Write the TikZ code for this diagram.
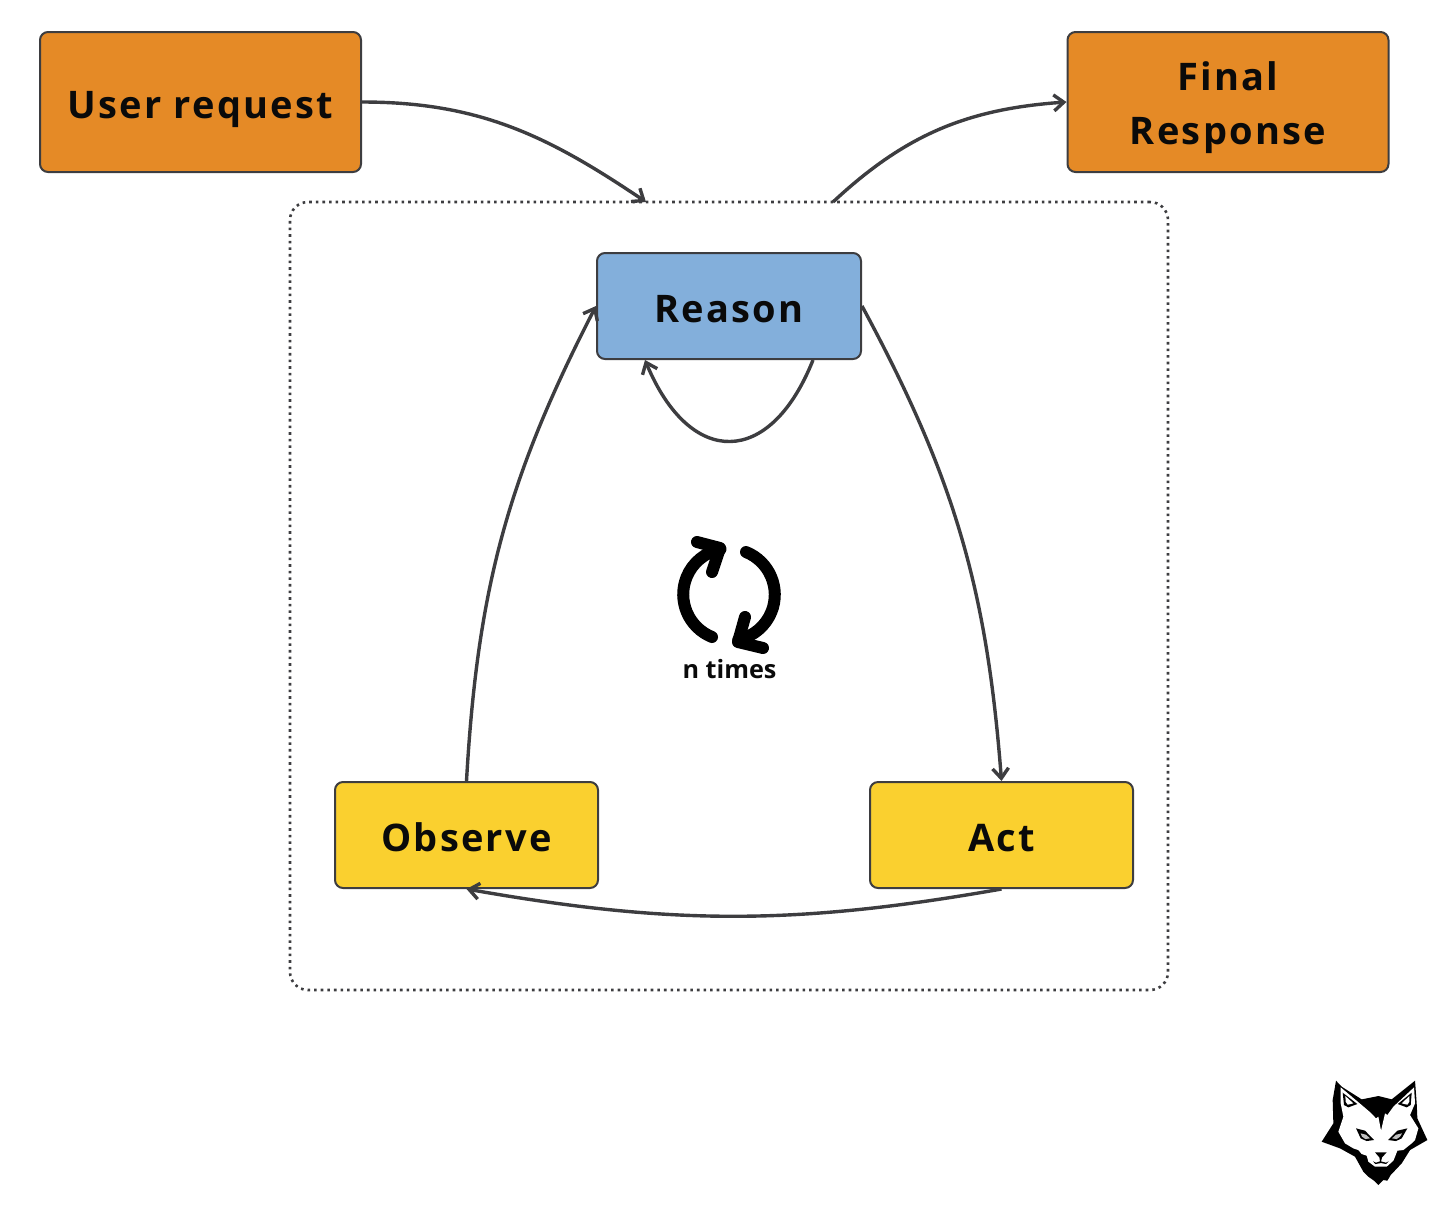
\documentclass[tikz,border=0pt]{standalone}
\usepackage{xcolor}
\usepackage{fontspec}
\usetikzlibrary{arrows.meta}
\newfontfamily\boxfont[LetterSpace=6]{Open Sans}
\setmainfont{Open Sans}
\definecolor{myorange}{RGB}{229,138,38}
\definecolor{myblue}{RGB}{131,175,219}
\definecolor{myyellow}{RGB}{250,208,47}
\definecolor{mydark}{RGB}{61,61,64}
\definecolor{myblack}{RGB}{10,10,10}
\tikzset{
  box/.style={rectangle, draw=mydark, line width=1pt, rounded corners=4pt,
    text=myblack, align=center, font=\fontsize{19}{27}\boxfont\bfseries},
  oneline/.style={text height=20pt, text depth=4pt},
  outerbox/.style={box, fill=myorange, minimum width=160.5pt, minimum height=70pt},
  reasonbox/.style={box, oneline, fill=myblue, minimum width=132pt, minimum height=53pt},
  stepbox/.style={box, oneline, fill=myyellow, minimum width=131.5pt, minimum height=53pt},
  arrow/.style={-{Straight Barb[length=5pt,width=8pt]}, line width=1.7pt, color=mydark},
  spin/.style={line width=6pt, color=black, line cap=round, line join=round}
}
\begin{document}
\begin{tikzpicture}[x=0.5pt, y=-0.5pt]
  \useasboundingbox (0,0) rectangle (1456,1206);

  % Dotted frame round the loop
  \node[draw=mydark, dotted, line width=1.3pt, rounded corners=9pt, minimum width=439pt, minimum height=394pt] (loop) at (729,596) {};
  \coordinate (loopin) at (646,202);
  \coordinate (loopout) at (833,202);

  % Boxes
  \node[outerbox, oneline] (user) at (200.5,102) {User request};
  \node[outerbox] (final) at (1228,102) {\rule{0pt}{20pt}Final\\Response};
  \node[reasonbox] (reason) at (729,306) {Reason};
  \node[stepbox] (observe) at (466.5,835) {Observe};
  \node[stepbox] (act) at (1001.5,835) {Act};

  % Connectors
  \draw[arrow] (user.east) to[out=0, in=146] (loopin);
  \draw[arrow] (loopout) to[out=43, in=184] (final.west);
  \draw[arrow] (reason.east) to[bend left=12] (act.north);
  \draw[arrow] (act.south) to[bend left=10] (observe.south);
  \draw[arrow] (observe.north) to[bend left=12] (reason.west);
  \coordinate (selfout) at (813,360);
  \coordinate (selfin) at (645,360);
  \draw[arrow] (selfout) .. controls (770,468) and (690,468) .. (selfin);

  % Refresh sign
  \node[font=\fontsize{12.6}{16}\selectfont\bfseries, text=myblack] (times) at (729.5,669) {n times};
  \draw[spin] (712,637) arc[start angle=248, end angle=101, radius=23pt];
  \draw[spin] (697,542) -- (720,548) -- (712,572);
  \draw[spin] (746,552) arc[start angle=68, end angle=-78, radius=23pt];
  \draw[spin] (745,617) -- (738,642) -- (763,648);

  % Cat logo
  \begin{scope}[shift={(1300,1060)}, x=0.1667pt, y=-0.1667pt]
    \fill[black] (108,62) -- (125,80) -- (185,118) -- (235,108) -- (275,118) -- (345,62) -- (350,130) -- (352,175) -- (382,240) -- (330,270) -- (305,310) -- (272,345) -- (262,362) -- (250,360) -- (235,375) -- (222,362) -- (205,350) -- (190,335) -- (165,290) -- (120,265) -- (65,245) -- (100,190) -- (98,120) -- cycle;
    \fill[white] (122,82) -- (185,135) -- (212,158) -- (228,175) -- (235,170) -- (243,212) -- (255,160) -- (262,165) -- (280,140) -- (342,82) -- (345,130) -- (330,165) -- (355,205) -- (345,240) -- (335,250) -- (310,270) -- (292,272) -- (285,290) -- (280,302) -- (260,320) -- (225,320) -- (205,305) -- (200,287) -- (185,282) -- (175,270) -- (160,265) -- (135,250) -- (115,215) -- (130,170) -- (122,130) -- cycle;
    \fill[black] (128,98) -- (172,132) -- (145,142) -- (132,135) -- cycle;
    \fill[white] (136,108) -- (160,130) -- (143,134) -- (137,125) -- cycle;
    \fill[black] (335,98) -- (293,132) -- (320,142) -- (332,135) -- cycle;
    \fill[white] (328,108) -- (305,130) -- (322,134) -- (328,125) -- cycle;
    % eyes
    \fill[black] (168,205) -- (195,212) -- (222,240) -- (200,243) -- (182,235) -- cycle;
    \fill[black] (322,205) -- (292,212) -- (264,240) -- (288,243) -- (305,235) -- cycle;
    \fill[white!75!black] (182,220) -- (198,224) -- (210,235) -- (196,237) -- (186,230) -- cycle;
    \fill[white!75!black] (306,220) -- (288,224) -- (276,235) -- (290,237) -- (300,230) -- cycle;
    % nose and mouth
    \fill[black] (225,277) -- (260,277) -- (246,292) -- (243,304) -- (258,308) -- (266,304) -- (258,312) -- (243,309) -- (226,312) -- (219,304) -- (228,308) -- (240,304) -- (238,292) -- cycle;
  \end{scope}
\end{tikzpicture}
\end{document}
